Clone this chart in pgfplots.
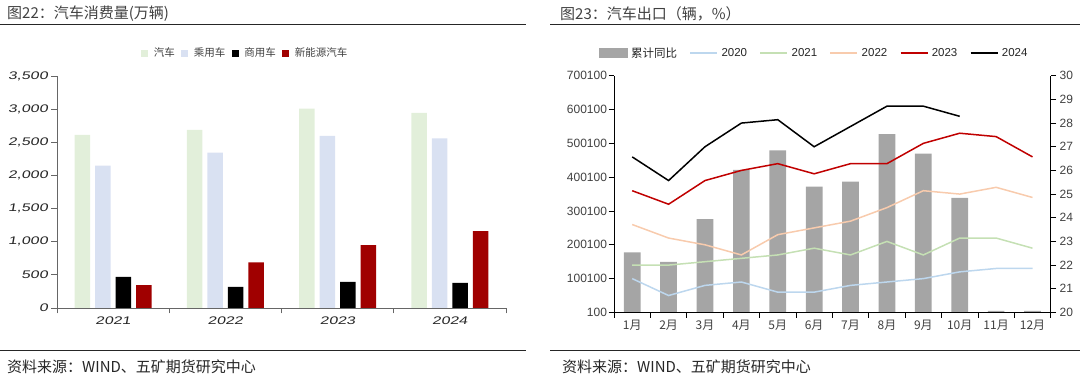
\documentclass[border=0pt]{standalone}
\usepackage{pgfplots}
\pgfplotsset{compat=1.18}
\usepackage{fontspec}
\setmainfont{Liberation Sans}
\newfontfamily\cjk{Noto Sans CJK SC}
\newfontfamily\hand[FakeSlant=0.18,FakeStretch=1.45]{Liberation Sans}
\definecolor{cAuto}{HTML}{E2EFDA}
\definecolor{cPass}{HTML}{D9E1F2}
\definecolor{cNev}{HTML}{A00000}
\definecolor{cBar}{HTML}{A5A5A5}
\definecolor{cA}{HTML}{BDD7EE}
\definecolor{cB}{HTML}{C5E0B4}
\definecolor{cC}{HTML}{F8CBAD}
\definecolor{cD}{HTML}{C00000}
\definecolor{txt}{HTML}{404040}
\begin{document}
\begin{tikzpicture}
\path[use as bounding box] (0pt,0pt) rectangle (1080pt,378pt);
% titles and rules
\node[anchor=west,inner sep=0pt,text=txt] at (7pt,364pt) {\cjk\fontsize{15}{18}\selectfont 图22：汽车消费量(万辆)};
\node[anchor=west,inner sep=0pt,text=txt] at (560pt,364pt) {\cjk\fontsize{15}{18}\selectfont 图23：汽车出口（辆，\%）};
\draw[line width=1.2pt,black!85] (0pt,353.7pt) -- (526pt,353.7pt);
\draw[line width=1.2pt,black!85] (550pt,353.7pt) -- (1080pt,353.7pt);
\draw[line width=1.2pt,black!85] (0pt,27.3pt) -- (526pt,27.3pt);
\draw[line width=1.2pt,black!85] (550pt,27.3pt) -- (1080pt,27.3pt);
\node[anchor=west,inner sep=0pt,text=black!85] at (7pt,11.3pt) {\cjk\fontsize{15}{18}\selectfont 资料来源：WIND、五矿期货研究中心};
\node[anchor=west,inner sep=0pt,text=black!85] at (562pt,11.3pt) {\cjk\fontsize{15}{18}\selectfont 资料来源：WIND、五矿期货研究中心};

% ---------- left chart ----------
\begin{axis}[
  at={(57pt,70pt)}, anchor=south west, scale only axis,
  width=449pt, height=232pt,
  ymin=0, ymax=3500, ytick={0,500,...,3500},
  yticklabels={0,{500},{1,000},{1,500},{2,000},{2,500},{3,000},{3,500}},
  xmin=-0.5, xmax=3.5,
  xtick={-0.5,0.5,1.5,2.5,3.5}, xticklabels={},
  extra x ticks={0,1,2,3},
  extra x tick labels={2021,2022,2023,2024},
  extra x tick style={major tick length=0pt},
  axis x line*=bottom, axis y line*=left,
  axis line style={-,draw=black!60,line width=0.8pt},
  tick style={draw=black!60,line width=0.8pt},
  tick align=outside, major tick length=5.5pt,
  yticklabel style={font=\hand\fontsize{11}{13}\selectfont, text=black!85},
  xticklabel style={font=\hand\fontsize{11}{13}\selectfont, text=black!85, yshift=-5pt},
  ybar=5pt, bar width=15.5pt,
  legend columns=4,
  legend style={draw=none, fill=none, at={(0.419,1.099)}, anchor=center,
    font=\cjk\fontsize{10.5}{12}\selectfont, text=txt,
    /tikz/every odd column/.append style={column sep=4pt},
    /tikz/every even column/.append style={column sep=5pt},
    nodes={inner sep=1.5pt}},
  legend image code/.code={\fill[#1] (0pt,-3.5pt) rectangle (7pt,3.5pt);},
]
\addplot[fill=cAuto, draw=none] coordinates {(0,2610) (1,2686) (2,3009) (3,2942)};
\addlegendentry{汽车}
\addplot[fill=cPass, draw=none] coordinates {(0,2148) (1,2345) (2,2596) (3,2560)};
\addlegendentry{乘用车}
\addplot[fill=black, draw=none] coordinates {(0,470) (1,320) (2,395) (3,380)};
\addlegendentry{商用车}
\addplot[fill=cNev, draw=none] coordinates {(0,345) (1,688) (2,948) (3,1160)};
\addlegendentry{新能源汽车}
\end{axis}

% ---------- right chart: bars (right axis) ----------
\begin{axis}[
  at={(614pt,65.6pt)}, anchor=south west, scale only axis,
  width=436.7pt, height=236.7pt,
  xmin=0.5, xmax=12.5, ymin=20, ymax=30, ytick={20,21,...,30},
  yticklabels={20,21,22,23,24,25,26,27,28,29,30},
  axis x line=none, axis y line*=right,
  axis line style={-,draw=black,line width=0.8pt},
  tick style={draw=black,line width=0.8pt},
  tick align=outside, major tick length=5.5pt,
  yticklabel style={font=\fontsize{12}{14}\selectfont, text=txt},
  ybar, bar width=16.7pt,
]
\addplot[fill=cBar, draw=none] coordinates {(1,22.54) (2,22.13) (3,23.94) (4,26.02) (5,26.84) (6,25.31) (7,25.53) (8,27.53) (9,26.71) (10,24.84) (11,20.06) (12,20.06)};
\end{axis}

% ---------- right chart: lines (left axis) ----------
\begin{axis}[
  at={(614pt,65.6pt)}, anchor=south west, scale only axis,
  width=436.7pt, height=236.7pt,
  xmin=0.5, xmax=12.5, ymin=100, ymax=700100,
  ytick={100,100100,200100,300100,400100,500100,600100,700100},
  yticklabels={100,100100,200100,300100,400100,500100,600100,700100},
  xtick={0.5,1.5,...,12.5}, xticklabels={},
  extra x ticks={1,2,...,12},
  extra x tick labels={1月,2月,3月,4月,5月,6月,7月,8月,9月,10月,11月,12月},
  extra x tick style={major tick length=0pt},
  axis x line*=bottom, axis y line*=left,
  axis line style={-,draw=black,line width=0.8pt},
  tick style={draw=black,line width=0.8pt},
  tick align=outside, major tick length=5.5pt,
  scaled y ticks=false,
  yticklabel style={font=\fontsize{12}{14}\selectfont, text=txt, xshift=2pt},
  xticklabel style={font=\cjk\fontsize{12}{14}\selectfont, text=txt, yshift=-4pt},
  legend columns=6,
  legend style={draw=none, fill=none, at={(0.458,1.095)}, anchor=center,
    font=\fontsize{11.5}{13}\selectfont, text=black!85,
    /tikz/every odd column/.append style={column sep=2pt},
    /tikz/every even column/.append style={column sep=11pt},
    nodes={inner sep=1.5pt}},
  legend image code/.code={\draw[#1] (0pt,0pt) -- (27pt,0pt);},
  every axis plot/.append style={line width=1.5pt, mark=none},
]
\addlegendimage{legend image code/.code={\fill[cBar] (0pt,-4pt) rectangle (27pt,4pt);}}
\addlegendentry{{\cjk 累计同比}}
\addplot[cA] coordinates {(1,100000) (2,50000) (3,80000) (4,90000) (5,60000) (6,60000) (7,80000) (8,90000) (9,100000) (10,120000) (11,130000) (12,130000)};
\addlegendentry{2020}
\addplot[cB] coordinates {(1,140000) (2,140000) (3,150000) (4,160000) (5,170000) (6,190000) (7,170000) (8,210000) (9,170000) (10,220000) (11,220000) (12,190000)};
\addlegendentry{2021}
\addplot[cC] coordinates {(1,260000) (2,220000) (3,200000) (4,170000) (5,230000) (6,250000) (7,270000) (8,310000) (9,360000) (10,350000) (11,370000) (12,340000)};
\addlegendentry{2022}
\addplot[cD] coordinates {(1,360000) (2,320000) (3,390000) (4,420000) (5,440000) (6,410000) (7,440000) (8,440000) (9,500000) (10,530000) (11,520000) (12,460000)};
\addlegendentry{2023}
\addplot[black] coordinates {(1,460000) (2,390000) (3,490000) (4,560000) (5,570000) (6,490000) (7,550000) (8,610000) (9,610000) (10,580000)};
\addlegendentry{2024}
\end{axis}
\end{tikzpicture}
\end{document}
